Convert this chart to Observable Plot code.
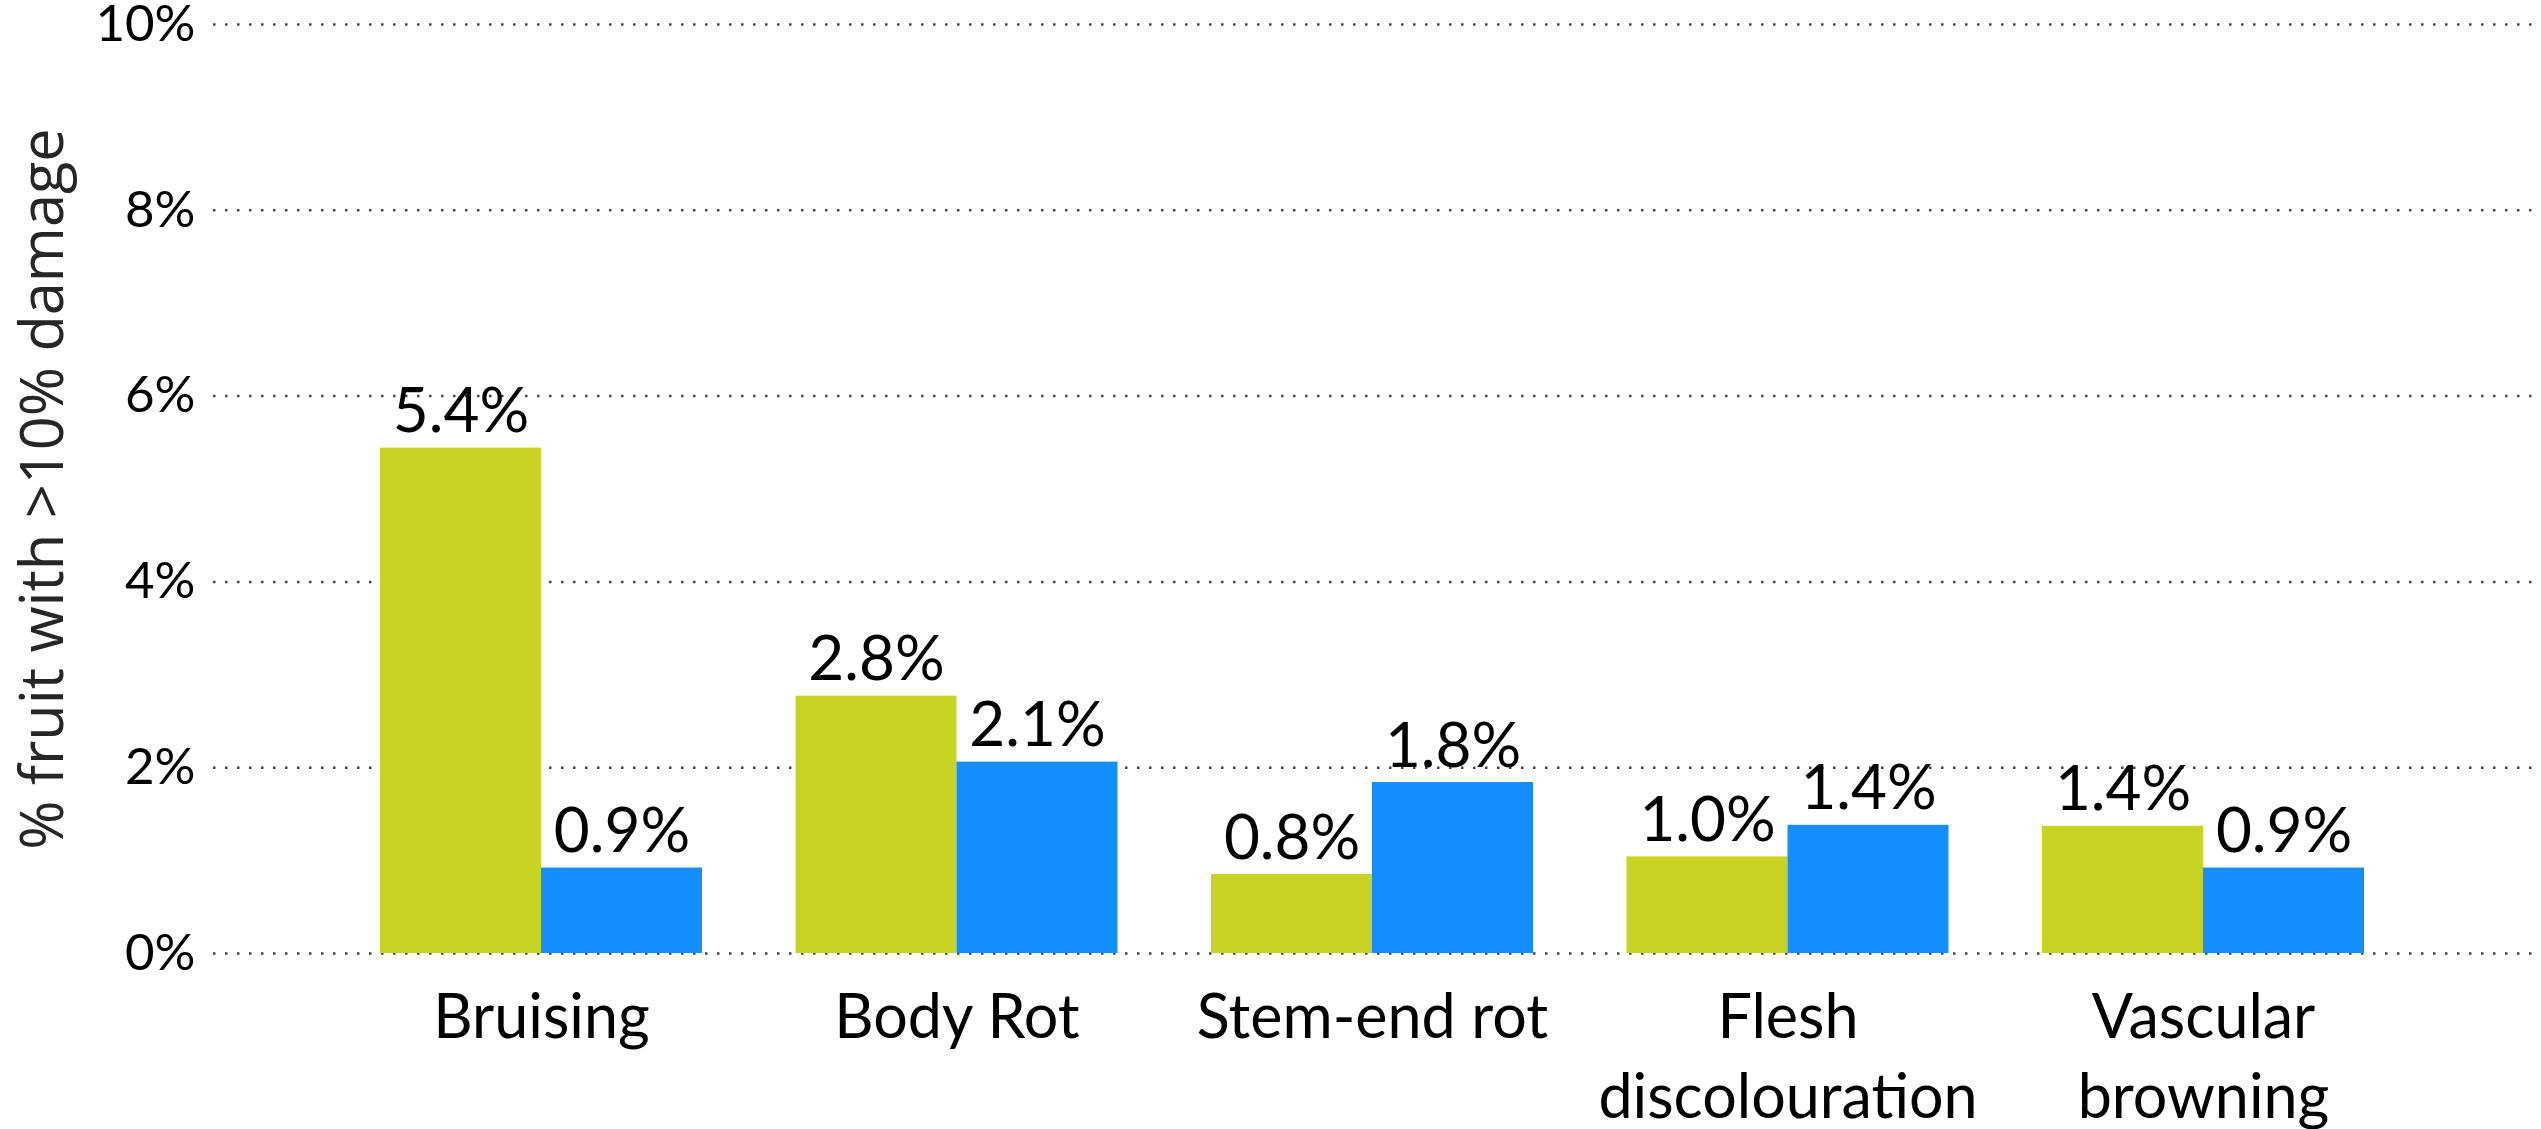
<!DOCTYPE html>
<html>
<head>
<meta charset="utf-8">
<script src="https://cdn.jsdelivr.net/npm/d3@7"></script>
<script src="https://cdn.jsdelivr.net/npm/@observablehq/plot@0.6"></script>
<style>
  html, body { margin: 0; padding: 0; background: #fff; }
  #chart svg { display: block; }
</style>
</head>
<body>
<div id="chart"></div>
<script>
// Categories (x axis)
const categories = ["Bruising", "Body Rot", "Stem-end rot", "Flesh discolouration", "Vascular browning"];
const categoryLabels = ["Bruising", "Body Rot", "Stem-end rot", "Flesh\ndiscolouration", "Vascular\nbrowning"];
// Series values (% fruit with >10% damage)
const seriesGreen = [5.44, 2.77, 0.85, 1.04, 1.37];
const seriesBlue = [0.92, 2.06, 1.84, 1.38, 0.92];
// Y tick values
const yTicks = [0, 2, 4, 6, 8, 10];
const yTitle = "% fruit with >10% damage";

const GREEN = "#C8D423";
const BLUE = "#148EFF";

const greenData = categories.map((c, i) => ({category: c, value: seriesGreen[i]}));
const blueData = categories.map((c, i) => ({category: c, value: seriesBlue[i]}));
const labelOf = new Map(categories.map((c, i) => [c, categoryLabels[i]]));

const half = 161; // half of the band: each series takes one half
const fmt = d => d.value.toFixed(1) + "%";

const chart = Plot.plot({
  width: 2541,
  height: 1129,
  marginLeft: 213,
  marginRight: 4,
  marginTop: 24,
  marginBottom: 176,
  style: {fontFamily: "Lato, sans-serif", background: "#fff"},
  x: {domain: categories, range: [286.5, 2457.5], padding: 0.225, round: false, label: null},
  y: {domain: [0, 10], label: null},
  marks: [
    Plot.ruleY(yTicks, {stroke: "#444", strokeWidth: 2.5, strokeDasharray: "2.5,9.5"}),
    Plot.barY(greenData, {x: "category", y: "value", fill: GREEN, insetRight: half}),
    Plot.barY(blueData, {x: "category", y: "value", fill: BLUE, insetLeft: half}),
    Plot.text(greenData, {x: "category", y: "value", text: fmt, dx: -half / 2, dy: -16, lineAnchor: "bottom", fontSize: 62, fill: "#000"}),
    Plot.text(blueData, {x: "category", y: "value", text: fmt, dx: half / 2, dy: -16, lineAnchor: "bottom", fontSize: 62, fill: "#000"}),
    Plot.axisY({ticks: yTicks, tickSize: 0, tickPadding: 18, tickFormat: d => d + "%", fontSize: 51, fill: "#000", label: null}),
    Plot.axisX({tickSize: 0, tickPadding: 28, tickFormat: d => labelOf.get(d), fontSize: 61, lineHeight: 1.31, fill: "#000", label: null}),
    Plot.text([yTitle], {frameAnchor: "left", textAnchor: "middle", text: d => d, rotate: -90, dx: 43 - 213, lineAnchor: "middle", fontSize: 59.5, fontFamily: "Open Sans", fill: "#262626"})
  ]
});
document.getElementById("chart").appendChild(chart);
</script>
</body>
</html>
